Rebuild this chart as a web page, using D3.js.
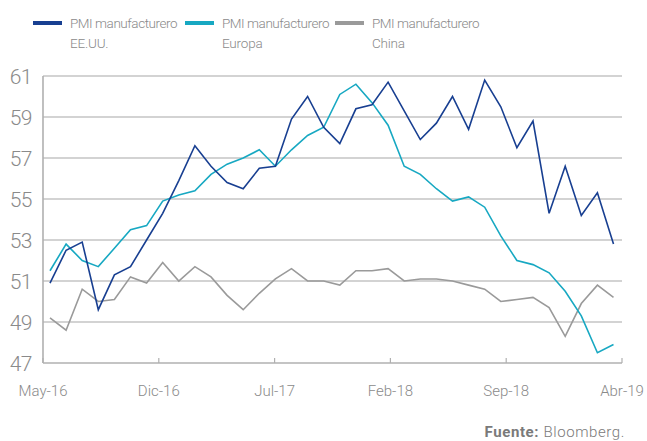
<!DOCTYPE html>
<html><head><meta charset="utf-8">
<script src="https://cdn.jsdelivr.net/npm/d3@7"></script>
<style>
body{margin:0;background:#fff;}
svg{display:block;font-family:Roboto, "Liberation Sans", sans-serif;}
</style></head>
<body><svg id="c" width="647" height="441"></svg>
<script>
const months = ["May-16","Jun-16","Jul-16","Ago-16","Sep-16","Oct-16","Nov-16","Dic-16","Ene-17","Feb-17","Mar-17","Abr-17","May-17","Jun-17","Jul-17","Ago-17","Sep-17","Oct-17","Nov-17","Dic-17","Ene-18","Feb-18","Mar-18","Abr-18","May-18","Jun-18","Jul-18","Ago-18","Sep-18","Oct-18","Nov-18","Dic-18","Ene-19","Feb-19","Mar-19","Abr-19"];
const usValues = [50.9,52.5,52.9,49.6,51.3,51.7,53.0,54.3,55.9,57.6,56.6,55.8,55.5,56.5,56.6,58.9,60.0,58.5,57.7,59.4,59.6,60.7,59.3,57.9,58.7,60.0,58.4,60.8,59.5,57.5,58.8,54.3,56.6,54.2,55.3,52.8];
const euValues = [51.5,52.8,52.0,51.7,52.6,53.5,53.7,54.9,55.2,55.4,56.2,56.7,57.0,57.4,56.6,57.4,58.1,58.5,60.1,60.6,59.7,58.6,56.6,56.2,55.5,54.9,55.1,54.6,53.2,52.0,51.8,51.4,50.5,49.3,47.5,47.9];
const cnValues = [49.2,48.6,50.6,50.0,50.1,51.2,50.9,51.9,51.0,51.7,51.2,50.3,49.6,50.4,51.1,51.6,51.0,51.0,50.8,51.5,51.5,51.6,51.0,51.1,51.1,51.0,50.8,50.6,50.0,50.1,50.2,49.7,48.3,49.9,50.8,50.2];
const seriesNames = ["PMI manufacturero\nEE.UU.","PMI manufacturero\nEuropa","PMI manufacturero\nChina"];
const seriesColors = ["#183f91","#17a8c2","#9a9a9a"];
const yTicks = [47,49,51,53,55,57,59,61];
const xTickLabels = ["May-16","Dic-16","Jul-17","Feb-18","Sep-18","Abr-19"];

const svg = d3.select("#c");
const L = 43, R = 622, T = 76, B = 363;
const x = d3.scalePoint().domain(months).range([50, 613.5]);
const xt = d3.scalePoint().domain(xTickLabels).range([L, R]);
const y = d3.scaleLinear().domain([47, 61]).range([B, T]);

// gridlines
svg.append("g").selectAll("line").data(yTicks.filter(d=>d>47)).join("line")
  .attr("x1", L).attr("x2", R).attr("y1", d=>y(d)).attr("y2", d=>y(d))
  .attr("stroke", "#c4c4c4").attr("stroke-width", 1.6);

// y labels
svg.append("g").selectAll("text").data(yTicks).join("text")
  .attr("x", 32).attr("y", d=>y(d)).attr("dy", "0.36em")
  .attr("text-anchor", "end").attr("fill", "#8a8a8a")
  .attr("font-size", 21).attr("font-weight", 300).attr("letter-spacing", -0.5).text(d=>d);

// axes lines
svg.append("line").attr("x1", L).attr("x2", L).attr("y1", T).attr("y2", B)
  .attr("stroke", "#b0b0b0").attr("stroke-width", 1.6);
svg.append("line").attr("x1", L).attr("x2", R).attr("y1", B).attr("y2", B)
  .attr("stroke", "#b0b0b0").attr("stroke-width", 1.6);
svg.append("g").selectAll("line").data(xTickLabels).join("line")
  .attr("x1", d=>xt(d)).attr("x2", d=>xt(d)).attr("y1", B-5).attr("y2", B)
  .attr("stroke", "#b0b0b0").attr("stroke-width", 1.2);
svg.append("g").selectAll("text").data(xTickLabels).join("text")
  .attr("x", d=>xt(d)).attr("y", 396).attr("text-anchor", "middle")
  .attr("fill", "#8a8a8a").attr("font-size", 15).attr("font-weight", 300).text(d=>d);

// lines
const data = [usValues, euValues, cnValues];
const line = d3.line().x((d,i)=>x(months[i])).y(d=>y(d));
[2,1,0].forEach(s=>{
  svg.append("path").datum(data[s]).attr("d", line)
    .attr("fill","none").attr("stroke", seriesColors[s]).attr("stroke-width", 1.6)
    .attr("stroke-linejoin","miter");
});

// legend
const legX = [33, 185, 335];
seriesNames.forEach((n,i)=>{
  const g = svg.append("g").attr("transform", `translate(${legX[i]},0)`);
  g.append("rect").attr("x",0).attr("y",21).attr("width",29).attr("height",4).attr("fill",seriesColors[i]);
  const parts = n.split("\n");
  g.append("text").attr("x",37).attr("y",28).attr("fill","#8a8a8a").attr("font-size",13.5).attr("font-weight",300)
    .attr("letter-spacing",-0.45).text(parts[0]);
  g.append("text").attr("x",37).attr("y",48).attr("fill","#8a8a8a").attr("font-size",13.5).attr("font-weight",300)
    .attr("letter-spacing",-0.2).text(parts[1]);
});

// source
const src = svg.append("text").attr("x", 625).attr("y", 437).attr("text-anchor","end")
  .attr("fill","#7a7a7a").attr("font-size",15).attr("letter-spacing",0.6);
src.append("tspan").attr("font-weight",700).text("Fuente:");
src.append("tspan").attr("font-weight",300).text(" Bloomberg.");
</script></body></html>
